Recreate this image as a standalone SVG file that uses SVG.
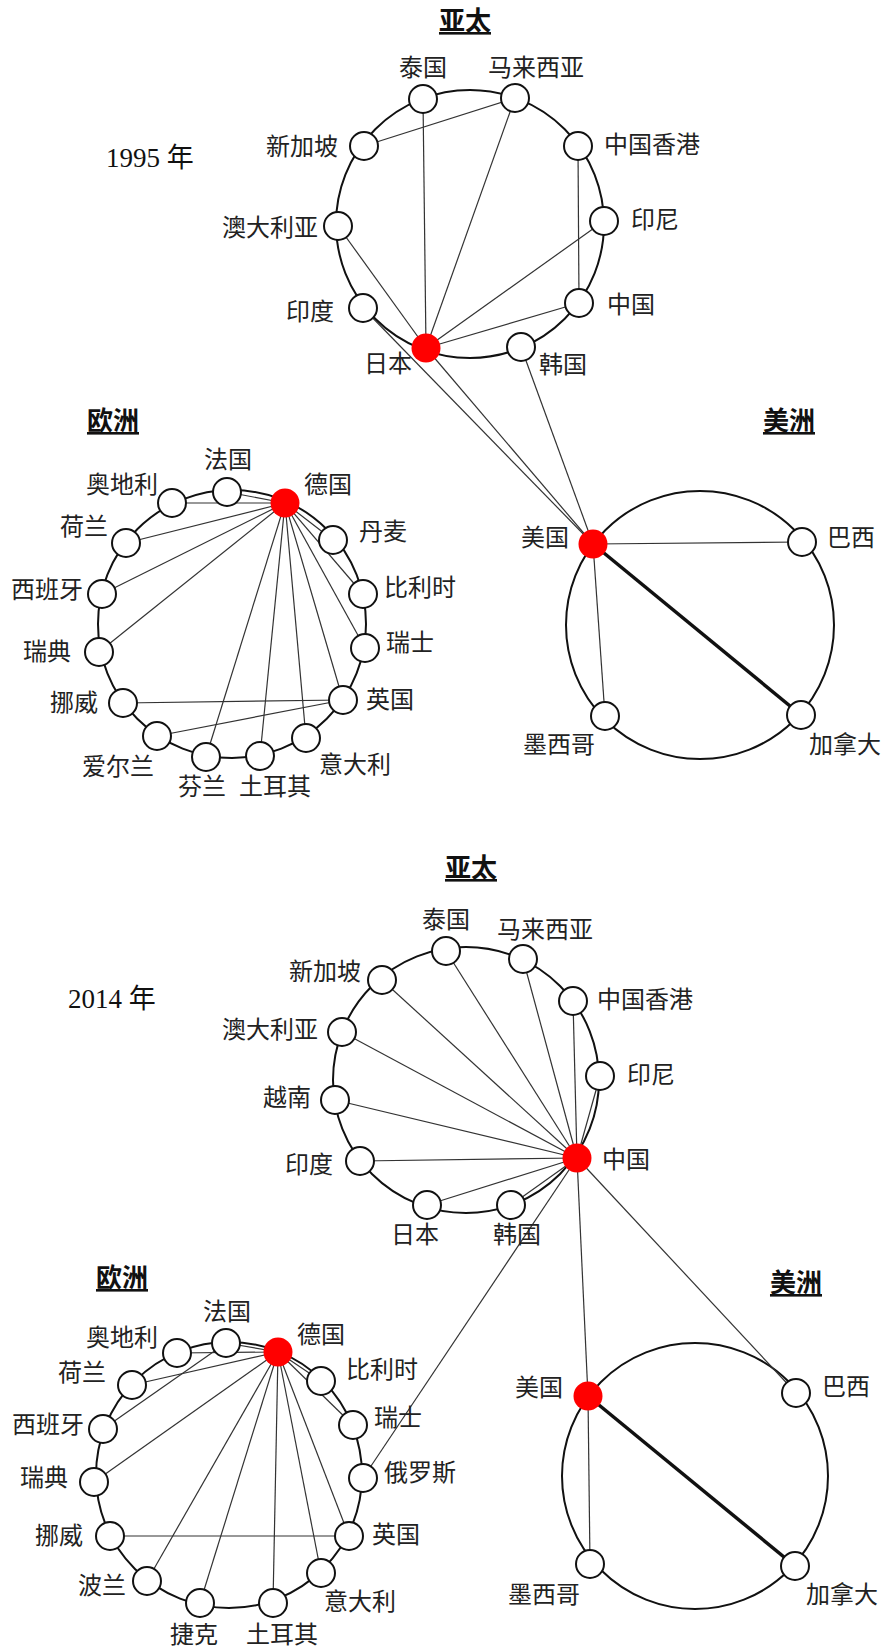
<svg xmlns="http://www.w3.org/2000/svg" width="887" height="1651" viewBox="0 0 887 1651">
<style>
.ring{fill:none;stroke:#111;stroke-width:2}
.n{fill:#fff;stroke:#111;stroke-width:2}
.hub{fill:#ff0000;stroke:none}
.e{stroke:#333;stroke-width:1.2;fill:none}
.thick{stroke:#111;stroke-width:3.5;fill:none}
.lb{font-family:"Noto Sans CJK SC","Noto Sans",sans-serif;font-size:24px;fill:#222}
.m{text-anchor:middle}
.r{text-anchor:end}
.tt{font-family:"Noto Sans CJK SC",sans-serif;font-size:26px;font-weight:bold;fill:#111;text-anchor:middle;text-decoration:underline}
.yr{font-family:"Liberation Serif","Noto Sans CJK SC",serif;font-size:27px;fill:#111}
</style>
<rect width="887" height="1651" fill="#fff"/>

<!-- titles and year labels -->
<g id="titles">
<text class="yr" x="106" y="167">1995 年</text>
<text class="tt" x="465" y="30">亚太</text>
<text class="tt" x="113" y="430">欧洲</text>
<text class="tt" x="789" y="430">美洲</text>
<text class="yr" x="68" y="1008">2014 年</text>
<text class="tt" x="471" y="877">亚太</text>
<text class="tt" x="122" y="1287">欧洲</text>
<text class="tt" x="796" y="1292">美洲</text>
</g>

<!-- regional rings -->
<g id="rings">
<circle class="ring" cx="470" cy="224" r="134"/>
<circle class="ring" cx="232" cy="624" r="134"/>
<circle class="ring" cx="700" cy="625" r="134"/>
<circle class="ring" cx="466" cy="1080" r="133"/>
<circle class="ring" cx="229" cy="1475" r="133"/>
<circle class="ring" cx="695" cy="1476" r="133"/>
</g>

<g id="connectors">
<!-- 1995 Asia -->
<line class="e" x1="364" y1="146" x2="515" y2="98"/>
<line class="e" x1="423" y1="99" x2="426" y2="348"/>
<line class="e" x1="515" y1="98" x2="426" y2="348"/>
<line class="e" x1="578" y1="146" x2="579" y2="303"/>
<line class="e" x1="604" y1="221" x2="426" y2="348"/>
<line class="e" x1="579" y1="303" x2="426" y2="348"/>
<line class="e" x1="338" y1="226" x2="426" y2="348"/>
<line class="e" x1="363" y1="308" x2="593" y2="544"/>
<line class="e" x1="426" y1="348" x2="593" y2="544"/>
<line class="e" x1="521" y1="347" x2="593" y2="544"/>
<!-- 1995 Europe -->
<line class="e" x1="227" y1="492" x2="285" y2="503"/>
<line class="e" x1="172" y1="503" x2="285" y2="503"/>
<line class="e" x1="126" y1="543" x2="285" y2="503"/>
<line class="e" x1="102" y1="594" x2="285" y2="503"/>
<line class="e" x1="99" y1="652" x2="285" y2="503"/>
<line class="e" x1="333" y1="540" x2="285" y2="503"/>
<line class="e" x1="363" y1="594" x2="285" y2="503"/>
<line class="e" x1="365" y1="648" x2="285" y2="503"/>
<line class="e" x1="343" y1="700" x2="285" y2="503"/>
<line class="e" x1="306" y1="738" x2="285" y2="503"/>
<line class="e" x1="260" y1="756" x2="285" y2="503"/>
<line class="e" x1="206" y1="757" x2="285" y2="503"/>
<line class="e" x1="123" y1="703" x2="343" y2="700"/>
<line class="e" x1="157" y1="736" x2="343" y2="700"/>
<!-- 1995 Americas -->
<line class="e" x1="593" y1="544" x2="802" y2="542"/>
<line class="e" x1="593" y1="544" x2="605" y2="716"/>
<line class="thick" x1="593" y1="544" x2="801" y2="715"/>
<!-- 2014 Asia -->
<line class="e" x1="382" y1="980" x2="577" y2="1158"/>
<line class="e" x1="446" y1="951" x2="577" y2="1158"/>
<line class="e" x1="523" y1="959" x2="577" y2="1158"/>
<line class="e" x1="573" y1="1001" x2="577" y2="1158"/>
<line class="e" x1="342" y1="1032" x2="577" y2="1158"/>
<line class="e" x1="600" y1="1076" x2="577" y2="1158"/>
<line class="e" x1="335" y1="1100" x2="577" y2="1158"/>
<line class="e" x1="360" y1="1161" x2="577" y2="1158"/>
<line class="e" x1="427" y1="1205" x2="577" y2="1158"/>
<line class="e" x1="511" y1="1205" x2="577" y2="1158"/>
<line class="e" x1="577" y1="1158" x2="363" y2="1478"/>
<line class="e" x1="577" y1="1158" x2="588" y2="1396"/>
<line class="e" x1="577" y1="1158" x2="796" y2="1393"/>
<!-- 2014 Europe -->
<line class="e" x1="226" y1="1343" x2="278" y2="1352"/>
<line class="e" x1="177" y1="1353" x2="278" y2="1352"/>
<line class="e" x1="132" y1="1385" x2="278" y2="1352"/>
<line class="e" x1="103" y1="1429" x2="226" y2="1343"/>
<line class="e" x1="94" y1="1482" x2="278" y2="1352"/>
<line class="e" x1="321" y1="1381" x2="278" y2="1352"/>
<line class="e" x1="353" y1="1425" x2="278" y2="1352"/>
<line class="e" x1="349" y1="1536" x2="278" y2="1352"/>
<line class="e" x1="321" y1="1573" x2="278" y2="1352"/>
<line class="e" x1="273" y1="1603" x2="278" y2="1352"/>
<line class="e" x1="200" y1="1603" x2="278" y2="1352"/>
<line class="e" x1="147" y1="1581" x2="278" y2="1352"/>
<line class="e" x1="110" y1="1536" x2="349" y2="1536"/>
<!-- 2014 Americas -->
<line class="e" x1="588" y1="1396" x2="590" y2="1564"/>
<line class="thick" x1="588" y1="1396" x2="795" y2="1566"/>
</g>

<!-- 1995 Asia-Pacific nodes -->
<g id="a95-thailand"><circle class="n" cx="423" cy="99" r="14"/><text class="lb m" x="423" y="76">泰国</text></g>
<g id="a95-malaysia"><circle class="n" cx="515" cy="98" r="14"/><text class="lb m" x="536" y="76">马来西亚</text></g>
<g id="a95-singapore"><circle class="n" cx="364" cy="146" r="14"/><text class="lb r" x="338" y="155">新加坡</text></g>
<g id="a95-hongkong"><circle class="n" cx="578" cy="146" r="14"/><text class="lb" x="604" y="153">中国香港</text></g>
<g id="a95-australia"><circle class="n" cx="338" cy="226" r="14"/><text class="lb r" x="318" y="236">澳大利亚</text></g>
<g id="a95-indonesia"><circle class="n" cx="604" cy="221" r="14"/><text class="lb" x="631" y="228">印尼</text></g>
<g id="a95-india"><circle class="n" cx="363" cy="308" r="14"/><text class="lb r" x="334" y="320">印度</text></g>
<g id="a95-china"><circle class="n" cx="579" cy="303" r="14"/><text class="lb" x="607" y="313">中国</text></g>
<g id="a95-japan"><circle class="hub" cx="426" cy="348" r="14.5"/><text class="lb" x="364" y="372">日本</text></g>
<g id="a95-korea"><circle class="n" cx="521" cy="347" r="14"/><text class="lb" x="539" y="373">韩国</text></g>

<!-- 1995 Europe nodes -->
<g id="e95-france"><circle class="n" cx="227" cy="492" r="14"/><text class="lb m" x="228" y="468">法国</text></g>
<g id="e95-austria"><circle class="n" cx="172" cy="503" r="14"/><text class="lb r" x="158" y="493">奥地利</text></g>
<g id="e95-germany"><circle class="hub" cx="285" cy="503" r="14.5"/><text class="lb" x="304" y="493">德国</text></g>
<g id="e95-netherlands"><circle class="n" cx="126" cy="543" r="14"/><text class="lb r" x="108" y="535">荷兰</text></g>
<g id="e95-denmark"><circle class="n" cx="333" cy="540" r="14"/><text class="lb" x="359" y="540">丹麦</text></g>
<g id="e95-spain"><circle class="n" cx="102" cy="594" r="14"/><text class="lb r" x="83" y="598">西班牙</text></g>
<g id="e95-belgium"><circle class="n" cx="363" cy="594" r="14"/><text class="lb" x="384" y="596">比利时</text></g>
<g id="e95-sweden"><circle class="n" cx="99" cy="652" r="14"/><text class="lb r" x="71" y="660">瑞典</text></g>
<g id="e95-switzerland"><circle class="n" cx="365" cy="648" r="14"/><text class="lb" x="386" y="651">瑞士</text></g>
<g id="e95-norway"><circle class="n" cx="123" cy="703" r="14"/><text class="lb r" x="98" y="711">挪威</text></g>
<g id="e95-uk"><circle class="n" cx="343" cy="700" r="14"/><text class="lb" x="366" y="708">英国</text></g>
<g id="e95-ireland"><circle class="n" cx="157" cy="736" r="14"/><text class="lb m" x="118" y="775">爱尔兰</text></g>
<g id="e95-italy"><circle class="n" cx="306" cy="738" r="14"/><text class="lb" x="319" y="773">意大利</text></g>
<g id="e95-finland"><circle class="n" cx="206" cy="757" r="14"/><text class="lb m" x="202" y="795">芬兰</text></g>
<g id="e95-turkey"><circle class="n" cx="260" cy="756" r="14"/><text class="lb m" x="275" y="795">土耳其</text></g>

<!-- 1995 Americas nodes -->
<g id="m95-usa"><circle class="hub" cx="593" cy="544" r="14.5"/><text class="lb r" x="569" y="546">美国</text></g>
<g id="m95-brazil"><circle class="n" cx="802" cy="542" r="14"/><text class="lb" x="827" y="546">巴西</text></g>
<g id="m95-mexico"><circle class="n" cx="605" cy="716" r="14"/><text class="lb m" x="559" y="753">墨西哥</text></g>
<g id="m95-canada"><circle class="n" cx="801" cy="715" r="14"/><text class="lb" x="809" y="753">加拿大</text></g>

<!-- 2014 Asia-Pacific nodes -->
<g id="a14-thailand"><circle class="n" cx="446" cy="951" r="14"/><text class="lb m" x="446" y="928">泰国</text></g>
<g id="a14-malaysia"><circle class="n" cx="523" cy="959" r="14"/><text class="lb m" x="545" y="938">马来西亚</text></g>
<g id="a14-singapore"><circle class="n" cx="382" cy="980" r="14"/><text class="lb r" x="361" y="980">新加坡</text></g>
<g id="a14-hongkong"><circle class="n" cx="573" cy="1001" r="14"/><text class="lb" x="597" y="1008">中国香港</text></g>
<g id="a14-australia"><circle class="n" cx="342" cy="1032" r="14"/><text class="lb r" x="318" y="1038">澳大利亚</text></g>
<g id="a14-indonesia"><circle class="n" cx="600" cy="1076" r="14"/><text class="lb" x="627" y="1083">印尼</text></g>
<g id="a14-vietnam"><circle class="n" cx="335" cy="1100" r="14"/><text class="lb r" x="311" y="1106">越南</text></g>
<g id="a14-china"><circle class="hub" cx="577" cy="1158" r="14.5"/><text class="lb" x="602" y="1168">中国</text></g>
<g id="a14-india"><circle class="n" cx="360" cy="1161" r="14"/><text class="lb r" x="333" y="1173">印度</text></g>
<g id="a14-japan"><circle class="n" cx="427" cy="1205" r="14"/><text class="lb m" x="415" y="1243">日本</text></g>
<g id="a14-korea"><circle class="n" cx="511" cy="1205" r="14"/><text class="lb m" x="517" y="1243">韩国</text></g>

<!-- 2014 Europe nodes -->
<g id="e14-france"><circle class="n" cx="226" cy="1343" r="14"/><text class="lb m" x="227" y="1320">法国</text></g>
<g id="e14-austria"><circle class="n" cx="177" cy="1353" r="14"/><text class="lb r" x="158" y="1346">奥地利</text></g>
<g id="e14-germany"><circle class="hub" cx="278" cy="1352" r="14.5"/><text class="lb" x="297" y="1343">德国</text></g>
<g id="e14-netherlands"><circle class="n" cx="132" cy="1385" r="14"/><text class="lb r" x="106" y="1381">荷兰</text></g>
<g id="e14-belgium"><circle class="n" cx="321" cy="1381" r="14"/><text class="lb" x="346" y="1378">比利时</text></g>
<g id="e14-spain"><circle class="n" cx="103" cy="1429" r="14"/><text class="lb r" x="84" y="1433">西班牙</text></g>
<g id="e14-switzerland"><circle class="n" cx="353" cy="1425" r="14"/><text class="lb" x="374" y="1426">瑞士</text></g>
<g id="e14-sweden"><circle class="n" cx="94" cy="1482" r="14"/><text class="lb r" x="68" y="1486">瑞典</text></g>
<g id="e14-russia"><circle class="n" cx="363" cy="1478" r="14"/><text class="lb" x="384" y="1481">俄罗斯</text></g>
<g id="e14-norway"><circle class="n" cx="110" cy="1536" r="14"/><text class="lb r" x="83" y="1544">挪威</text></g>
<g id="e14-uk"><circle class="n" cx="349" cy="1536" r="14"/><text class="lb" x="372" y="1543">英国</text></g>
<g id="e14-poland"><circle class="n" cx="147" cy="1581" r="14"/><text class="lb r" x="126" y="1594">波兰</text></g>
<g id="e14-italy"><circle class="n" cx="321" cy="1573" r="14"/><text class="lb" x="324" y="1610">意大利</text></g>
<g id="e14-czech"><circle class="n" cx="200" cy="1603" r="14"/><text class="lb m" x="194" y="1643">捷克</text></g>
<g id="e14-turkey"><circle class="n" cx="273" cy="1603" r="14"/><text class="lb m" x="282" y="1643">土耳其</text></g>

<!-- 2014 Americas nodes -->
<g id="m14-usa"><circle class="hub" cx="588" cy="1396" r="14.5"/><text class="lb r" x="563" y="1396">美国</text></g>
<g id="m14-brazil"><circle class="n" cx="796" cy="1393" r="14"/><text class="lb" x="822" y="1395">巴西</text></g>
<g id="m14-mexico"><circle class="n" cx="590" cy="1564" r="14"/><text class="lb m" x="544" y="1603">墨西哥</text></g>
<g id="m14-canada"><circle class="n" cx="795" cy="1566" r="14"/><text class="lb" x="806" y="1603">加拿大</text></g>
</svg>
